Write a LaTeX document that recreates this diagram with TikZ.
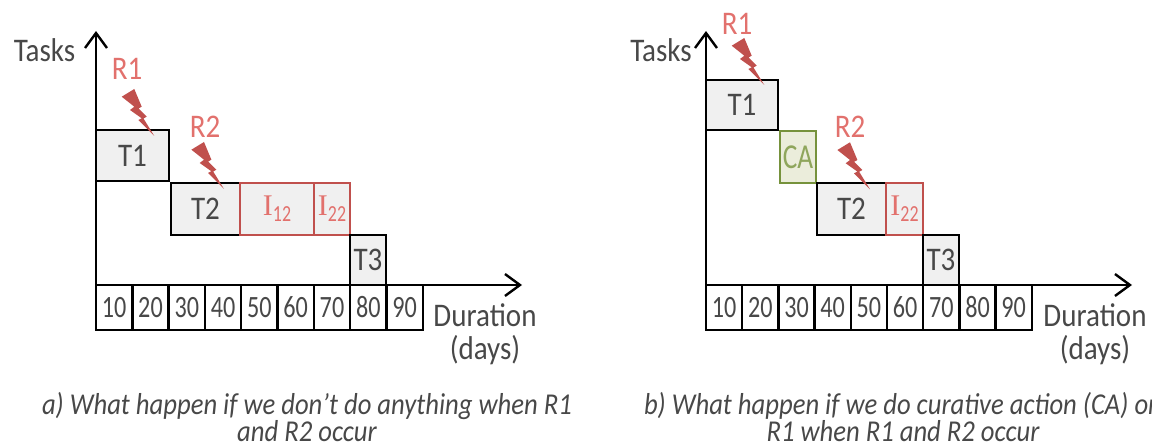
\documentclass[tikz,border=0pt]{standalone}
\usepackage{fontspec}
\setmainfont[FakeStretch=0.88]{Carlito}
\newfontfamily\narrowfont[FakeStretch=0.78]{Carlito}
\newfontfamily\serifI{Liberation Serif}
\usetikzlibrary{arrows.meta}
\definecolor{txt}{HTML}{484848}
\definecolor{redtxt}{HTML}{E2716D}
\definecolor{redl}{HTML}{C0504D}
\definecolor{grn}{HTML}{76923C}
\definecolor{grnt}{HTML}{8FA65C}
\definecolor{grnf}{HTML}{EBEDDB}
\definecolor{gf}{HTML}{F0F0F0}
\tikzset{
  x=1pt,y=-1pt,
  axis/.style={line width=2.4pt,draw=black,-{Straight Barb[length=15pt,width=22pt,line width=2.4pt]}},
  taskbox/.style={draw=black,line width=2.4pt,fill=gf,inner sep=0pt,text=txt,font=\fontsize{33}{33}\selectfont},
  impact/.style={draw=redl,line width=2.4pt,fill=gf,inner sep=0pt,text=redtxt,font=\fontsize{33}{33}\selectfont},
  cabox/.style={draw=grn,line width=2.4pt,fill=grnf,inner sep=0pt,text=grnt,font=\narrowfont\fontsize{35}{35}\selectfont},
  cell/.style={draw=black,line width=2.4pt,fill=white,inner sep=0pt,text=txt,minimum height=45pt,font=\narrowfont\fontsize{31}{31}\selectfont},
  lab/.style={inner sep=0pt,text=txt,font=\fontsize{33}{33}\selectfont,align=center},
  risk/.style={inner sep=0pt,text=redtxt,font=\fontsize{33}{33}\selectfont},
  caption text/.style={inner sep=0pt,text=txt,align=center,font=\fontsize{30.3}{25}\selectfont\itshape},
}
\newcommand{\bolt}[2]{%
  \fill[redl,shift={(#1,#2)}] (-32.6,-39.3) -- (-20,-47) -- (-12.6,-29.3) -- (-15.8,-27.5) -- (-7.6,-19.3) -- (-10.8,-17.5) -- (0,0) -- (-16,-16) -- (-12.6,-17.7) -- (-24.3,-26) -- (-20,-29.3) -- cycle;}
\newcommand{\Isub}[1]{{\serifI\fontsize{30}{30}\selectfont I}\raisebox{-6pt}{\narrowfont\fontsize{23}{23}\selectfont #1}}
\begin{document}
\begin{tikzpicture}
\useasboundingbox (0,0) rectangle (1152,446);
\clip (0,0) rectangle (1152,446);
% panel a
\coordinate (oa) at (96,285);
\coordinate (ya) at (96,31);
\coordinate (xa) at (522,285);
\draw[axis] (oa) -- (ya);
\draw[axis] (oa) -- (xa);
\node[taskbox,minimum width=73pt,minimum height=51pt] (a1) at (132.5,155.5) {T1};
\node[taskbox,minimum width=69pt,minimum height=52pt] (a2) at (205.5,209) {T2};
\node[impact,minimum width=74pt,minimum height=52pt] (a3) at (277,209) {\Isub{12}};
\node[impact,minimum width=36pt,minimum height=52pt] (a4) at (332,209) {\Isub{22}};
\node[taskbox,minimum width=36pt,minimum height=50pt] (a5) at (368,260) {T3};
\foreach \i [count=\n from 0] in {10,20,...,90}
  \node[cell,minimum width=36.3pt] (ac\i) at (114.2+36.3*\n,307.5) {\i};
\bolt{154.3}{136}
\bolt{224}{189}
\node[lab] (at) at (44.5,50) {Tasks};
\node[risk] (ar1) at (127,69) {R1};
\node[risk] (ar2) at (205,127) {R2};
\node[lab] (ad) at (485,334.5) {Duration\\(days)};
\node[caption text] (ac) at (307,417) {a) What happen if we don’t do anything when R1\\and R2 occur};
% panel b
\coordinate (ob) at (706,285);
\coordinate (yb) at (706,31);
\coordinate (xb) at (1132,285);
\draw[axis] (ob) -- (yb);
\draw[axis] (ob) -- (xb);
\node[taskbox,minimum width=72pt,minimum height=50pt] (b1) at (742,105) {T1};
\node[cabox,minimum width=36pt,minimum height=52pt] (b2) at (798,157) {CA};
\node[taskbox,minimum width=69pt,minimum height=52pt] (b3) at (851.5,209) {T2};
\node[impact,minimum width=37pt,minimum height=52pt] (b4) at (904.5,209) {\Isub{22}};
\node[taskbox,minimum width=36pt,minimum height=50pt] (b5) at (941,260) {T3};
\foreach \i [count=\n from 0] in {10,20,...,90}
  \node[cell,minimum width=36.2pt] (bc\i) at (724.1+36.2*\n,307.5) {\i};
\bolt{764.3}{85}
\bolt{870}{189.3}
\node[lab] (bt) at (661,50) {Tasks};
\node[risk] (br1) at (737,24) {R1};
\node[risk] (br2) at (850,127) {R2};
\node[lab] (bd) at (1095,334.5) {Duration\\(days)};
\node[caption text] (bc) at (903,417) {b) What happen if we do curative action (CA) on\\R1 when R1 and R2 occur};
\end{tikzpicture}
\end{document}
